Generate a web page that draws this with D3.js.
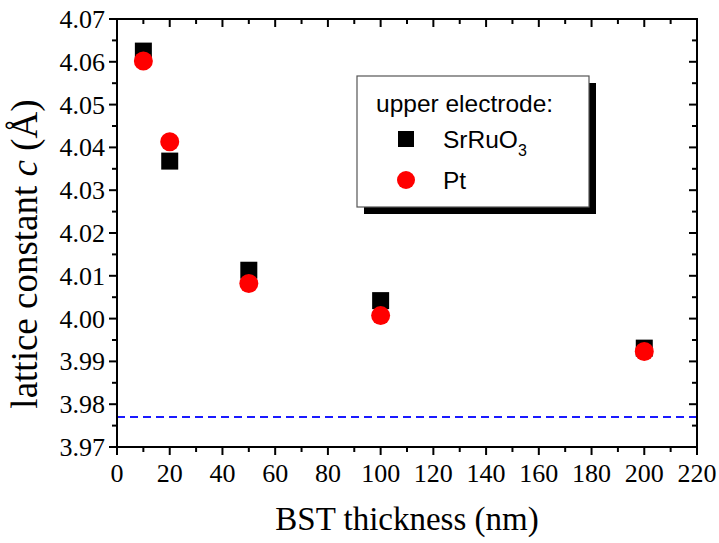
<!DOCTYPE html>
<html>
<head>
<meta charset="utf-8">
<script src="https://cdn.jsdelivr.net/npm/d3@7"></script>
<style>
  body { margin: 0; background: #fff; }
  svg { display: block; }
</style>
</head>
<body>
<svg id="chart" width="719" height="543"></svg>
<script>
// thickness (nm)
const thickness = [10, 20, 50, 100, 200];
// lattice constant c (Å) per upper electrode
const srruo3 = [4.0625, 4.0368, 4.0113, 4.0042, 3.9931];
const pt = [4.0602, 4.0413, 4.0082, 4.0007, 3.9923];
// bulk reference (dashed line)
const bulkC = 3.977;

const xTicks = d3.range(0, 221, 20);
const yTicks = [3.97, 3.98, 3.99, 4.00, 4.01, 4.02, 4.03, 4.04, 4.05, 4.06, 4.07];

const width = 719, height = 543;
const margin = { top: 19, right: 22, bottom: 96, left: 117 };

const svg = d3.select('#chart');

const x = d3.scaleLinear().domain([0, 220]).range([margin.left, width - margin.right]);
const y = d3.scaleLinear().domain([3.97, 4.07]).range([height - margin.bottom, margin.top]);

const x0 = margin.left, x1 = width - margin.right;
const y0 = height - margin.bottom, y1 = margin.top;

// dashed reference line
svg.append('line')
  .attr('x1', x(0)).attr('x2', x(220))
  .attr('y1', y(bulkC)).attr('y2', y(bulkC))
  .attr('stroke', '#1a1aff').attr('stroke-width', 2)
  .attr('stroke-dasharray', '8,5');

// minor ticks
const xMinor = d3.range(10, 220, 20);
const yMinor = d3.range(0, 10).map(i => 3.975 + i * 0.01);

const axisG = svg.append('g').attr('stroke', '#000').attr('stroke-width', 2);

// bottom (outward) and top (inward)
xTicks.forEach(v => {
  axisG.append('line').attr('x1', x(v)).attr('x2', x(v)).attr('y1', y0).attr('y2', y0 + 8);
  axisG.append('line').attr('x1', x(v)).attr('x2', x(v)).attr('y1', y1).attr('y2', y1 + 8);
});
xMinor.forEach(v => {
  axisG.append('line').attr('x1', x(v)).attr('x2', x(v)).attr('y1', y0).attr('y2', y0 + 5);
  axisG.append('line').attr('x1', x(v)).attr('x2', x(v)).attr('y1', y1).attr('y2', y1 + 5);
});
// left (outward) and right (inward)
yTicks.forEach(v => {
  axisG.append('line').attr('x1', x0 - 8).attr('x2', x0).attr('y1', y(v)).attr('y2', y(v));
  axisG.append('line').attr('x1', x1 - 8).attr('x2', x1).attr('y1', y(v)).attr('y2', y(v));
});
yMinor.forEach(v => {
  axisG.append('line').attr('x1', x0 - 5).attr('x2', x0).attr('y1', y(v)).attr('y2', y(v));
  axisG.append('line').attr('x1', x1 - 5).attr('x2', x1).attr('y1', y(v)).attr('y2', y(v));
});

// frame
svg.append('rect')
  .attr('x', x0).attr('y', y1)
  .attr('width', x1 - x0).attr('height', y0 - y1)
  .attr('fill', 'none').attr('stroke', '#000').attr('stroke-width', 2);

// tick labels
const labelFont = '"Liberation Serif", "Times New Roman", serif';
svg.append('g').selectAll('text').data(xTicks).join('text')
  .attr('x', d => x(d)).attr('y', y0 + 35)
  .attr('text-anchor', 'middle')
  .attr('font-family', labelFont).attr('font-size', 26)
  .text(d => d);

svg.append('g').selectAll('text').data(yTicks).join('text')
  .attr('x', x0 - 12).attr('y', d => y(d) + 9)
  .attr('text-anchor', 'end')
  .attr('font-family', labelFont).attr('font-size', 26)
  .text(d => d.toFixed(2));

// axis titles
svg.append('text')
  .attr('x', (x0 + x1) / 2).attr('y', 530)
  .attr('text-anchor', 'middle')
  .attr('font-family', labelFont).attr('font-size', 33)
  .text('BST thickness (nm)');

const yt = svg.append('text')
  .attr('transform', 'translate(37,254) rotate(-90)')
  .attr('text-anchor', 'middle')
  .attr('font-family', labelFont).attr('font-size', 37);
yt.append('tspan').text('lattice constant ');
yt.append('tspan').attr('font-style', 'italic').text('c');
yt.append('tspan').text(' (Å)');

// data: squares first, circles on top
const sq = 17;
svg.append('g').selectAll('rect').data(thickness).join('rect')
  .attr('x', d => x(d) - sq / 2)
  .attr('y', (d, i) => y(srruo3[i]) - sq / 2)
  .attr('width', sq).attr('height', sq)
  .attr('fill', '#000');

svg.append('g').selectAll('circle').data(thickness).join('circle')
  .attr('cx', d => x(d))
  .attr('cy', (d, i) => y(pt[i]))
  .attr('r', 9.5)
  .attr('fill', '#ff0000');

// legend
const lg = svg.append('g');
lg.append('rect').attr('x', 364).attr('y', 83).attr('width', 232).attr('height', 131).attr('fill', '#000');
lg.append('rect').attr('x', 357).attr('y', 76).attr('width', 232).attr('height', 131)
  .attr('fill', '#fff').attr('stroke', '#555').attr('stroke-width', 1.2);

const legFont = '"Liberation Sans", Arial, sans-serif';
lg.append('text').attr('x', 376).attr('y', 112)
  .attr('font-family', legFont).attr('font-size', 24.5)
  .text('upper electrode:');
lg.append('rect').attr('x', 398).attr('y', 131).attr('width', 16).attr('height', 16).attr('fill', '#000');
const t1 = lg.append('text').attr('x', 443).attr('y', 148)
  .attr('font-family', legFont).attr('font-size', 24.5);
t1.append('tspan').text('SrRuO');
t1.append('tspan').attr('font-size', 16).attr('dy', 8).text('3');
lg.append('circle').attr('cx', 406).attr('cy', 180).attr('r', 9).attr('fill', '#ff0000');
lg.append('text').attr('x', 443).attr('y', 189)
  .attr('font-family', legFont).attr('font-size', 24.5)
  .text('Pt');
</script>
</body>
</html>
